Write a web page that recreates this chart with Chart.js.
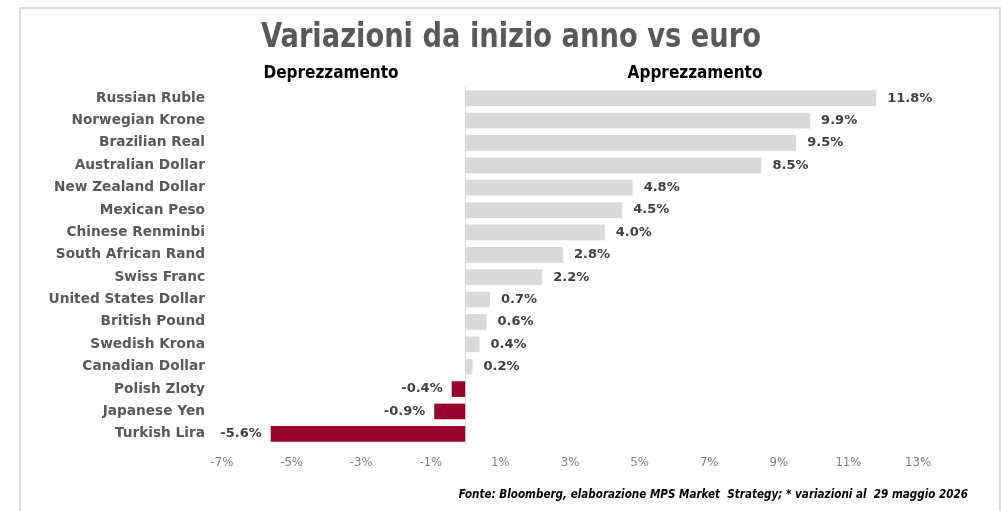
<!DOCTYPE html>
<html>
<head>
<meta charset="utf-8">
<script src="https://cdn.jsdelivr.net/npm/chart.js@4"></script>
<style>
  html, body { margin: 0; padding: 0; background: #fff; }
  #wrap { position: relative; width: 1001px; height: 511px; }
  #frame {
    position: absolute; left: 19px; top: 7px; width: 978px; height: 504px;
    border-top: 2px solid #dcdcdc; border-left: 2px solid #dcdcdc; border-right: 2px solid #dcdcdc;
    pointer-events: none;
  }
</style>
</head>
<body>
<div id="wrap">
  <canvas id="fxChart" width="1001" height="511"></canvas>
  <div id="frame"></div>
</div>
<script>
var currencies = ['Russian Ruble', 'Norwegian Krone', 'Brazilian Real', 'Australian Dollar', 'New Zealand Dollar',
    'Mexican Peso', 'Chinese Renminbi', 'South African Rand', 'Swiss Franc', 'United States Dollar',
    'British Pound', 'Swedish Krona', 'Canadian Dollar', 'Polish Zloty', 'Japanese Yen', 'Turkish Lira'];
var changes = [11.8, 9.9, 9.5, 8.5, 4.8, 4.5, 4.0, 2.8, 2.2, 0.7, 0.6, 0.4, 0.2, -0.4, -0.9, -5.6];
var axisMin = -7, axisMax = 13;

var colorUp = '#d9d9d9';
var colorDown = '#98002e';
var condensed = '"Liberation Sans Narrow", "DejaVu Sans Condensed", "Roboto Condensed", sans-serif';
var labelFont = '"DejaVu Sans", Verdana, sans-serif';

// testo schiacciato in orizzontale (font condensato)
function squeezedText(c, txt, x, y, sx) {
    c.save();
    c.translate(x, y);
    c.scale(sx, 1);
    c.fillText(txt, 0, 0);
    c.restore();
}

// testi di contorno: titolo, etichette delle due metà, fonte
var textPlugin = {
    id: 'annotationsText',
    afterDraw: function (chart) {
        var c = chart.ctx;
        c.save();
        c.textBaseline = 'middle';
        c.textAlign = 'center';
        c.fillStyle = '#595959';
        c.font = 'bold 33px ' + condensed;
        squeezedText(c, 'Variazioni da inizio anno vs euro', 511, 38, 0.92);
        c.fillStyle = '#000';
        c.font = 'bold 17px ' + condensed;
        c.fillText('Deprezzamento', 331, 74);
        c.fillText('Apprezzamento', 695, 74);
        c.textAlign = 'right';
        c.font = 'italic bold 13px ' + condensed;
        squeezedText(c, 'Fonte: Bloomberg, elaborazione MPS Market  Strategy; * variazioni al  29 maggio 2026', 968, 495, 0.89);
        c.restore();
    }
};

// valori accanto alle barre
var valueLabels = {
    id: 'valueLabels',
    afterDatasetsDraw: function (chart) {
        var c = chart.ctx;
        var meta = chart.getDatasetMeta(0);
        c.save();
        c.font = 'bold 13px ' + labelFont;
        c.fillStyle = '#404040';
        c.textBaseline = 'middle';
        meta.data.forEach(function (bar, i) {
            var v = changes[i];
            var txt = v.toFixed(1) + '%';
            if (v >= 0) {
                c.textAlign = 'left';
                c.fillText(txt, bar.x + 11, bar.y);
            } else {
                c.textAlign = 'right';
                c.fillText(txt, bar.x - 9, bar.y);
            }
        });
        c.restore();
    }
};

var ctx = document.getElementById('fxChart');
new Chart(ctx, {
    type: 'bar',
    data: {
        labels: currencies,
        datasets: [{
            data: changes,
            backgroundColor: changes.map(function (v) { return v < 0 ? colorDown : colorUp; }),
            borderWidth: 0,
            barPercentage: 0.7,
            categoryPercentage: 1.0
        }]
    },
    plugins: [textPlugin, valueLabels],
    options: {
        indexAxis: 'y',
        responsive: false,
        animation: false,
        layout: {
            padding: { top: 87, right: 83, bottom: 36, left: 0 }
        },
        plugins: {
            legend: { display: false },
            tooltip: { enabled: false }
        },
        scales: {
            x: {
                min: axisMin,
                max: axisMax,
                afterFit: function (scale) { scale.height = 30; },
                border: { display: false },
                grid: {
                    drawTicks: false,
                    color: function (context) {
                        return context.tick && context.tick.value === 0 ? '#d9d9d9' : 'rgba(0,0,0,0)';
                    },
                    lineWidth: 1
                },
                ticks: {
                    stepSize: 1,
                    autoSkip: false,
                    maxRotation: 0,
                    padding: 10,
                    color: '#7f7f7f',
                    font: { family: condensed, size: 13 },
                    callback: function (value) {
                        return Math.abs(value % 2) === 1 ? value + '%' : '';
                    }
                }
            },
            y: {
                afterFit: function (scale) { scale.width = 222; },
                border: { display: false },
                grid: { display: false, drawTicks: false },
                ticks: {
                    padding: 17,
                    color: '#595959',
                    font: { family: labelFont, size: 13.7, weight: 'bold' }
                }
            }
        }
    }
});
</script>
</body>
</html>
